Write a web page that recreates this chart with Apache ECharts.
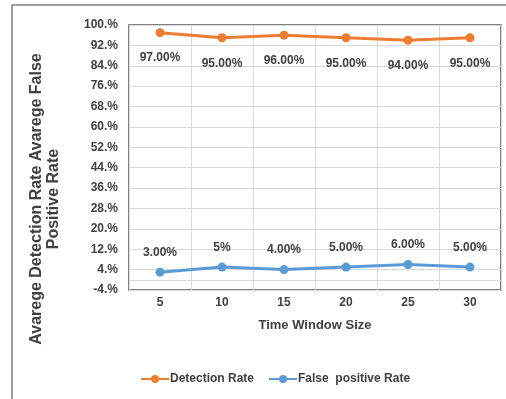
<!DOCTYPE html>
<html>
<head>
<meta charset="utf-8">
<script src="https://cdn.jsdelivr.net/npm/echarts@6/dist/echarts.min.js"></script>
<style>
html,body{margin:0;padding:0;background:#fff;}
#c{width:506px;height:399px;}
</style>
</head>
<body>
<div id="c"></div>
<script>
var categories = ['5', '10', '15', '20', '25', '30'];
var detectionRate = [97, 95, 96, 95, 94, 95];
var detectionLabels = ['97.00%', '95.00%', '96.00%', '95.00%', '94.00%', '95.00%'];
var falsePositiveRate = [3, 5, 4, 5, 6, 5];
var falsePositiveLabels = ['3.00%', '5%', '4.00%', '5.00%', '6.00%', '5.00%'];
var yMin = -4, yMax = 100, yStep = 8;

var fam = "'Liberation Sans', Arial, sans-serif";
var txt = '#404040';

var chart = echarts.init(document.getElementById('c'), null, {renderer: 'canvas'});
chart.setOption({
  animation: false,
  backgroundColor: '#fff',
  grid: {left: 129, right: 5, top: 25, bottom: 109, show: true, borderColor: '#595959', borderWidth: 1.5, backgroundColor: 'transparent'},
  graphic: [
    {type: 'rect', shape: {x: 12, y: 5, width: 520, height: 420}, style: {fill: 'none', stroke: '#7f7f7f', lineWidth: 1.5}, z: -1},
    {type: 'text', x: 45, y: 199, rotation: Math.PI / 2,
     style: {text: 'Avarege Detection Rate Avarege False\nPositive Rate', font: "bold 16px 'Liberation Sans', Arial, sans-serif", fill: txt, align: 'center', verticalAlign: 'middle', lineHeight: 17}}
  ],
  legend: {
    left: 135, top: 368, itemWidth: 28, itemHeight: 10, itemGap: 14,
    textStyle: {fontFamily: fam, fontWeight: 'bold', fontSize: 12, color: txt, padding: [0, 0, 0, -4]},
    data: ['Detection Rate', 'False  positive Rate']
  },
  xAxis: {
    type: 'category', data: categories, boundaryGap: true,
    name: 'Time Window Size', nameLocation: 'middle', nameGap: 29,
    nameTextStyle: {fontFamily: fam, fontWeight: 'bold', fontSize: 13, color: txt},
    axisLine: {show: false}, axisTick: {show: false},
    axisLabel: {fontFamily: fam, fontWeight: 'bold', fontSize: 12, color: txt, margin: 7},
    splitLine: {show: true, interval: 0, lineStyle: {color: '#d9d9d9', width: 1}}
  },
  yAxis: {
    type: 'value', min: yMin, max: yMax, interval: yStep,
    axisLine: {show: false}, axisTick: {show: false},
    axisLabel: {fontFamily: fam, fontWeight: 'bold', fontSize: 12, color: txt, margin: 11,
      formatter: function (v) { return v + '.%'; }},
    splitLine: {show: true, lineStyle: {color: '#d9d9d9', width: 1}}
  },
  series: [
    {
      name: 'Detection Rate', type: 'line', data: detectionRate,
      symbol: 'circle', symbolSize: 9, color: '#ED7D31',
      lineStyle: {width: 3, color: '#ED7D31'},
      label: {show: true, position: 'bottom', distance: 15, fontFamily: fam, fontWeight: 'bold', fontSize: 12, color: txt,
        formatter: function (p) { return detectionLabels[p.dataIndex]; }},
      z: 3
    },
    {
      name: 'False  positive Rate', type: 'line', data: falsePositiveRate,
      symbol: 'circle', symbolSize: 9, color: '#5B9BD5',
      lineStyle: {width: 3, color: '#5B9BD5'},
      label: {show: true, position: 'top', distance: 9, fontFamily: fam, fontWeight: 'bold', fontSize: 12, color: txt,
        formatter: function (p) { return falsePositiveLabels[p.dataIndex]; }},
      markLine: {silent: true, symbol: 'none', label: {show: false}, lineStyle: {color: '#d9d9d9', width: 1, type: 'solid'},
        data: [{yAxis: 0}], z: 1},
      z: 3
    }
  ]
});
</script>
</body>
</html>
